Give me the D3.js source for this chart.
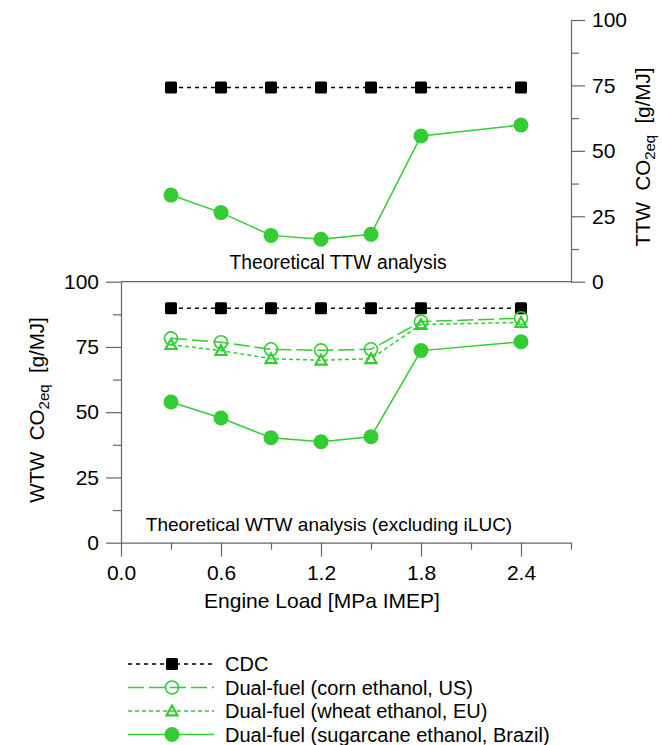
<!DOCTYPE html>
<html>
<head>
<meta charset="utf-8">
<script src="https://cdn.jsdelivr.net/npm/d3@7"></script>
<style>
  html, body { margin: 0; padding: 0; background: #fff; }
  text { font-family: 'Liberation Sans', Arial, sans-serif; fill: #000; }
</style>
</head>
<body>
<script>
// Engine loads (MPa IMEP)
const loads = [0.3, 0.6, 0.9, 1.2, 1.5, 1.8, 2.4];

// TTW panel (g/MJ)
const ttwCDC = [74.2, 74.2, 74.2, 74.2, 74.2, 74.2, 74.2];
const ttwSugarcane = [33.1, 26.4, 17.7, 16.2, 18.1, 55.7, 59.9];

// WTW panel (g/MJ)
const wtwCDC = [89.8, 89.8, 89.8, 89.8, 89.8, 89.8, 89.8];
const wtwCorn = [78.3, 76.8, 74.1, 73.7, 74.1, 84.7, 86.0];
const wtwWheat = [75.9, 73.6, 70.5, 69.9, 70.5, 83.6, 84.4];
const wtwSugarcane = [53.9, 47.8, 40.2, 38.7, 40.6, 73.6, 77.0];

const xMajorTicks = [0, 0.6, 1.2, 1.8, 2.4];
const xMinorTicks = [0.3, 0.9, 1.5, 2.1, 2.7];
const yMajorTicks = [0, 25, 50, 75, 100];
const yMinorTicks = [12.5, 37.5, 62.5, 87.5];

const legendLabels = [
  'CDC',
  'Dual-fuel (corn ethanol, US)',
  'Dual-fuel (wheat ethanol, EU)',
  'Dual-fuel (sugarcane ethanol, Brazil)',
];

const C = {
  width: 662,
  height: 745,
  green: '#33cc33',
  axis: '#666',
  tickFont: 21,
};

const styles = {
  cdc: { color: '#000', dash: '4,4', marker: 'square' },
  corn: { color: C.green, dash: '16,5', marker: 'openCircle' },
  wheat: { color: C.green, dash: '4,3', marker: 'triangle' },
  sugar: { color: C.green, dash: null, marker: 'filledCircle' },
};

const svg = d3.select('body').append('svg')
  .attr('width', C.width)
  .attr('height', C.height);

const x = d3.scaleLinear().domain([0, 2.7]).range([121, 571]);
const yTop = d3.scaleLinear().domain([0, 100]).range([281.7, 20]);
const yBot = d3.scaleLinear().domain([0, 100]).range([542.7, 281.7]);

function styleAxis(g) {
  g.select('.domain').attr('stroke', C.axis).attr('stroke-width', 1.2);
  g.selectAll('.tick line').attr('stroke', C.axis).attr('stroke-width', 1.2);
  g.selectAll('.tick text')
    .attr('font-size', C.tickFont)
    .attr('font-family', "'Liberation Sans', Arial, sans-serif")
    .attr('fill', '#000');
}

// Bottom x axis
svg.append('g')
  .attr('transform', `translate(0,${yBot(0)})`)
  .call(d3.axisBottom(x).tickValues(xMajorTicks).tickSize(14).tickPadding(8).tickFormat(d3.format('.1f')).tickSizeOuter(0))
  .call(styleAxis);
svg.append('g')
  .attr('transform', `translate(0,${yBot(0)})`)
  .call(d3.axisBottom(x).tickValues(xMinorTicks).tickSize(7).tickFormat('').tickSizeOuter(0))
  .call(g => g.select('.domain').remove())
  .call(styleAxis);

// Left y axis (WTW)
svg.append('g')
  .attr('transform', `translate(${x(0)},0)`)
  .call(d3.axisLeft(yBot).tickValues(yMajorTicks).tickSize(15).tickPadding(7).tickSizeOuter(0))
  .call(styleAxis);
svg.append('g')
  .attr('transform', `translate(${x(0)},0)`)
  .call(d3.axisLeft(yBot).tickValues(yMinorTicks).tickSize(8).tickFormat('').tickSizeOuter(0))
  .call(g => g.select('.domain').remove())
  .call(styleAxis);

// Right y axis (TTW)
svg.append('g')
  .attr('transform', `translate(${x(2.7)},0)`)
  .call(d3.axisRight(yTop).tickValues(yMajorTicks).tickSize(14).tickPadding(7).tickSizeOuter(0))
  .call(styleAxis);
svg.append('g')
  .attr('transform', `translate(${x(2.7)},0)`)
  .call(d3.axisRight(yTop).tickValues(yMinorTicks).tickSize(8).tickFormat('').tickSizeOuter(0))
  .call(g => g.select('.domain').remove())
  .call(styleAxis);

// Separator line between panels
svg.append('line')
  .attr('x1', x(0)).attr('x2', x(2.7))
  .attr('y1', yTop(0)).attr('y2', yTop(0))
  .attr('stroke', C.axis).attr('stroke-width', 1.2);

function drawMarker(g, type, color, cx, cy) {
  if (type === 'square') {
    g.append('rect')
      .attr('x', cx - 6).attr('y', cy - 6)
      .attr('width', 12).attr('height', 12)
      .attr('rx', 1.5)
      .attr('fill', color);
  } else if (type === 'filledCircle') {
    g.append('circle').attr('cx', cx).attr('cy', cy).attr('r', 7.5).attr('fill', color);
  } else if (type === 'openCircle') {
    g.append('circle').attr('cx', cx).attr('cy', cy).attr('r', 6.5)
      .attr('fill', 'none').attr('stroke', color).attr('stroke-width', 1.6);
  } else if (type === 'triangle') {
    const s = 5.5;
    g.append('path')
      .attr('d', `M${cx},${cy - s}L${cx + s},${cy + s * 0.8}L${cx - s},${cy + s * 0.8}Z`)
      .attr('fill', 'none').attr('stroke', color).attr('stroke-width', 2.2)
      .attr('stroke-linejoin', 'miter');
  }
}

function drawSeries(values, yScale, st) {
  const g = svg.append('g');
  const line = d3.line().x((d, i) => x(loads[i])).y(d => yScale(d));
  g.append('path')
    .attr('d', line(values))
    .attr('fill', 'none')
    .attr('stroke', st.color)
    .attr('stroke-width', 1.5)
    .attr('stroke-dasharray', st.dash);
  values.forEach((v, i) => drawMarker(g, st.marker, st.color, x(loads[i]), yScale(v)));
}

drawSeries(ttwCDC, yTop, styles.cdc);
drawSeries(ttwSugarcane, yTop, styles.sugar);

drawSeries(wtwCDC, yBot, styles.cdc);
drawSeries(wtwWheat, yBot, styles.wheat);
drawSeries(wtwCorn, yBot, styles.corn);
drawSeries(wtwSugarcane, yBot, styles.sugar);

// Panel annotations
svg.append('text')
  .attr('x', 338).attr('y', 269)
  .attr('text-anchor', 'middle')
  .attr('font-size', 19.3)
  .text('Theoretical TTW analysis');

svg.append('text')
  .attr('x', 329).attr('y', 531)
  .attr('text-anchor', 'middle')
  .attr('font-size', 19)
  .text('Theoretical WTW analysis (excluding iLUC)');

// Axis titles
svg.append('text')
  .attr('x', 322).attr('y', 608)
  .attr('text-anchor', 'middle')
  .attr('font-size', 21)
  .text('Engine Load [MPa IMEP]');

function yTitle(prefix, tx, ty) {
  const t = svg.append('text')
    .attr('transform', `translate(${tx},${ty}) rotate(-90)`)
    .attr('text-anchor', 'middle')
    .attr('font-size', 20.5)
    .style('white-space', 'pre');
  t.append('tspan').text(prefix + '  CO');
  t.append('tspan').attr('font-size', 15).attr('dy', 5).text('2eq');
  t.append('tspan').attr('dy', -5).text('  [g/MJ]');
}
yTitle('WTW', 44, 410);
yTitle('TTW', 650, 157);

// Legend
const legendStyles = [styles.cdc, styles.corn, styles.wheat, styles.sugar];
const legendY = d3.scalePoint().domain(legendLabels).range([664, 734.5]);
legendLabels.forEach((label, i) => {
  const st = legendStyles[i];
  const cy = legendY(label);
  const g = svg.append('g');
  g.append('line')
    .attr('x1', 128).attr('x2', 214)
    .attr('y1', cy).attr('y2', cy)
    .attr('stroke', st.color)
    .attr('stroke-width', 1.5)
    .attr('stroke-dasharray', st.dash);
  drawMarker(g, st.marker, st.color, 172, cy);
  g.append('text')
    .attr('x', 225).attr('y', cy + 7)
    .attr('font-size', 20)
    .text(label);
});
</script>
</body>
</html>
